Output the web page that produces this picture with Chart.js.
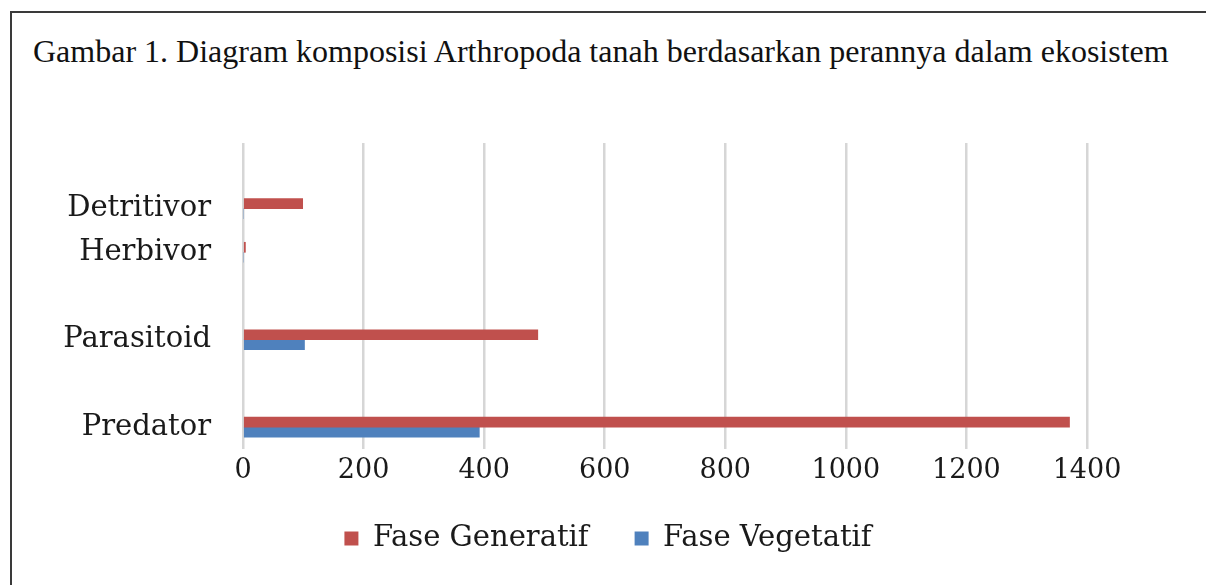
<!DOCTYPE html>
<html>
<head>
<meta charset="utf-8">
<script src="https://cdn.jsdelivr.net/npm/chart.js@4"></script>
<style>
    body { margin: 0; background: #fff; width: 1206px; height: 585px; overflow: hidden; position: relative; }
    #frame {
        position: absolute; left: 10px; top: 11px; width: 1210px; height: 600px;
        border-left: 2px solid #3a3a3a; border-top: 2px solid #3a3a3a;
    }
    #caption {
        position: absolute; left: 33px; top: 33px;
        font-family: "Liberation Serif", "Times New Roman", serif;
        font-size: 32px; color: #111; white-space: nowrap;
    }
    #wrap { position: absolute; left: 10px; top: 100px; width: 1196px; height: 485px; }
</style>
</head>
<body>
<div id="frame"></div>
<div id="caption">Gambar 1. Diagram komposisi Arthropoda tanah berdasarkan perannya dalam ekosistem</div>
<div id="wrap"><canvas id="roleChart"></canvas></div>
<script>
// categories (blank slots keep the uneven spacing of the original figure)
const roles = ['', 'Detritivor', 'Herbivor', '', 'Parasitoid', '', 'Predator'];
const generatif = [null, 99, 4, null, 489, null, 1371];
const vegetatif = [null, 0, 0, null, 102, null, 392];
const xTicks = [0, 200, 400, 600, 800, 1000, 1200, 1400];

const serif = 'DejaVu Serif';

// legend is centred on the whole frame, not on the padded area
const centerLegend = {
    id: 'centerLegend',
    beforeDraw(chart) {
        const lg = chart.legend;
        lg.left = 0;
        lg.right = chart.width;
        lg.width = chart.width;
    }
};

function initChart() {
    const ctx = document.getElementById('roleChart').getContext('2d');
    new Chart(ctx, {
        type: 'bar',
        data: {
            labels: roles,
            datasets: [
                {
                    label: 'Fase Generatif',
                    data: generatif,
                    backgroundColor: '#C0504D',
                    barThickness: 10
                },
                {
                    label: 'Fase Vegetatif',
                    data: vegetatif,
                    backgroundColor: '#4F81BD',
                    barThickness: 10
                }
            ]
        },
        options: {
            indexAxis: 'y',
            responsive: true,
            maintainAspectRatio: false,
            animation: false,
            layout: {
                padding: { left: 0, right: 119, top: 43, bottom: 22 }
            },
            scales: {
                x: {
                    min: 0,
                    max: 1400,
                    afterBuildTicks: (scale) => {
                        scale.ticks = xTicks.map(v => ({ value: v }));
                    },
                    afterFit: (scale) => { scale.height = 29; },
                    border: { display: false },
                    grid: { color: '#d6d6d6', lineWidth: 2.5, drawTicks: false },
                    ticks: {
                        color: '#1a1a1a',
                        padding: 6,
                        maxRotation: 0,
                        callback: (v) => String(v),
                        font: { family: serif, size: 27 }
                    }
                },
                y: {
                    afterFit: (scale) => {
                        scale.width = 233;
                        // label padding should not push the plot area down
                        scale.paddingTop = 0;
                        scale.paddingBottom = 0;
                    },
                    border: { display: false },
                    grid: { display: false, drawTicks: false },
                    ticks: {
                        color: '#1a1a1a',
                        padding: 32,
                        autoSkip: false,
                        font: { family: serif, size: 29 }
                    }
                }
            },
            plugins: {
                legend: {
                    position: 'bottom',
                    labels: {
                        color: '#1a1a1a',
                        boxWidth: 14,
                        boxHeight: 14,
                        padding: 46,
                        font: { family: serif, size: 29 }
                    }
                },
                tooltip: { enabled: false }
            }
        },
        plugins: [centerLegend]
    });
}

initChart();
</script>
</body>
</html>
